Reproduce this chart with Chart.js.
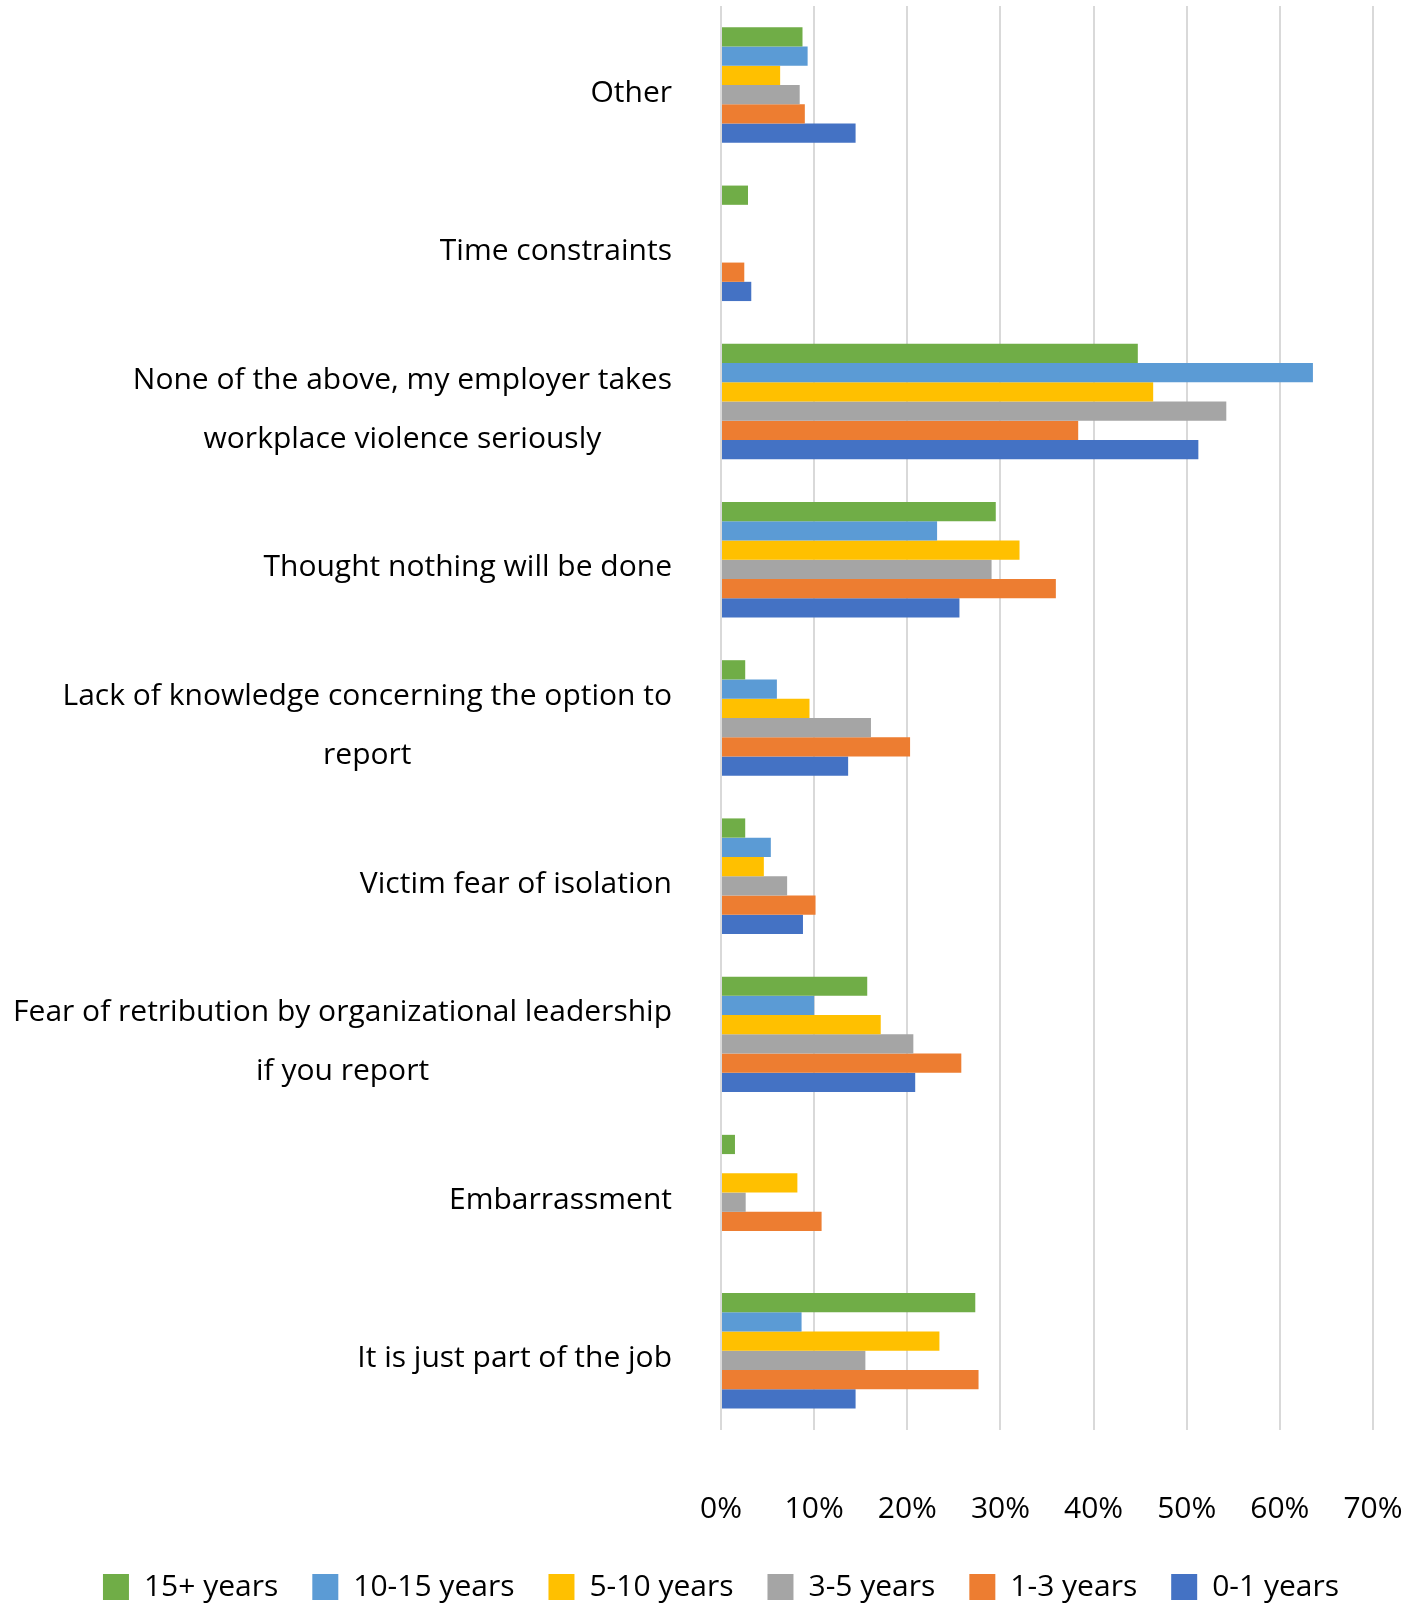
<!DOCTYPE html>
<html>
<head>
<meta charset="utf-8">
<script src="https://cdn.jsdelivr.net/npm/chart.js@4.4.0/dist/chart.umd.min.js"></script>
<style>
  html, body { margin: 0; padding: 0; background: #fff; }
  #wrap { width: 1421px; height: 1606px; position: relative; }
</style>
</head>
<body>
<div id="wrap"><canvas id="myCanvas"></canvas></div>
<script>
// Motivi per non segnalare, dall'alto verso il basso
let motivi = [
    ["Other"],
    ["Time constraints"],
    ["None of the above, my employer takes", "workplace violence seriously"],
    ["Thought nothing will be done"],
    ["Lack of knowledge concerning the option to", "report"],
    ["Victim fear of isolation"],
    ["Fear of retribution by organizational leadership", "if you report"],
    ["Embarrassment"],
    ["It is just part of the job"]
];

// Anzianità (una serie per fascia), valori in %
let fasce = ["15+ years", "10-15 years", "5-10 years", "3-5 years", "1-3 years", "0-1 years"];

let anni15piu = [8.75, 2.9, 44.75, 29.5, 2.6, 2.6, 15.7, 1.5, 27.3];
let anni10_15 = [9.3, 0, 63.55, 23.2, 6.0, 5.35, 10.0, 0, 8.65];
let anni5_10 = [6.35, 0, 46.4, 32.05, 9.5, 4.6, 17.15, 8.2, 23.45];
let anni3_5 = [8.45, 0, 54.25, 29.05, 16.1, 7.1, 20.65, 2.65, 15.5];
let anni1_3 = [9.0, 2.5, 38.35, 35.95, 20.3, 10.15, 25.8, 10.8, 27.65];
let anni0_1 = [14.45, 3.25, 51.25, 25.6, 13.65, 8.8, 20.85, 0, 14.45];

let tickPercento = [0, 10, 20, 30, 40, 50, 60, 70];

let colori = ['#70AD47', '#5B9BD5', '#FFC000', '#A5A5A5', '#ED7D31', '#4472C4'];
let serie = [anni15piu, anni10_15, anni5_10, anni3_5, anni1_3, anni0_1];

const FONT = "'Open Sans', 'Noto Sans', sans-serif";
const DIM = 30;
const MARGINE_SX = 21;

Chart.defaults.font.family = FONT;
Chart.defaults.font.size = DIM;
Chart.defaults.color = '#000';

// Etichette dell'asse y: blocco allineato a destra, righe centrate tra loro
const etichetteY = {
    id: 'etichetteY',
    afterDraw(chart) {
        const ctx = chart.ctx;
        const yScale = chart.scales.y;
        const destra = chart.chartArea.left - 49;
        const interlinea = 59;
        ctx.save();
        ctx.font = DIM + 'px ' + FONT;
        ctx.fillStyle = '#000';
        ctx.textAlign = 'center';
        ctx.textBaseline = 'middle';
        motivi.forEach((righe, i) => {
            const larghezza = Math.max(...righe.map(r => ctx.measureText(r).width));
            const cx = destra - larghezza / 2;
            const cy = yScale.getPixelForValue(i) + 8;
            righe.forEach((r, k) => {
                ctx.fillText(r, cx, cy + (k - (righe.length - 1) / 2) * interlinea);
            });
        });
        ctx.restore();
    }
};

let chart = new Chart(document.getElementById('myCanvas').getContext('2d'), {
    type: 'bar',
    data: {
        labels: motivi,
        datasets: fasce.map((f, i) => ({
            label: f,
            data: serie[i],
            backgroundColor: colori[i],
            borderWidth: 0,
            categoryPercentage: 0.73,
            barPercentage: 1
        }))
    },
    options: {
        indexAxis: 'y',
        responsive: true,
        maintainAspectRatio: false,
        animation: false,
        layout: {
            padding: { top: 6, left: MARGINE_SX, right: 0, bottom: -6 }
        },
        scales: {
            x: {
                min: 0,
                max: 70,
                afterBuildTicks: (scale) => {
                    scale.ticks = tickPercento.map(v => ({ value: v }));
                },
                // margine a destra dell'area del grafico
                afterFit: (scale) => { scale.paddingRight = 48; },
                ticks: {
                    padding: 0,
                    font: { size: DIM, lineHeight: 1.87 },
                    color: '#000',
                    callback: (v) => v + '%'
                },
                grid: {
                    color: '#d9d9d9',
                    lineWidth: 2,
                    drawTicks: true,
                    tickLength: 52,
                    tickColor: 'rgba(0,0,0,0)'
                },
                border: { display: false }
            },
            y: {
                // le etichette sono disegnate dal plugin, qui solo lo spazio
                ticks: { display: false },
                grid: { display: false, drawTicks: false },
                border: { display: false },
                afterFit: (scale) => { scale.width = 721 - MARGINE_SX; }
            }
        },
        plugins: {
            legend: {
                position: 'bottom',
                labels: {
                    boxWidth: 26,
                    boxHeight: 26,
                    padding: 34,
                    font: { size: DIM },
                    color: '#000'
                }
            },
            tooltip: { enabled: false }
        }
    },
    plugins: [etichetteY]
});
</script>
</body>
</html>
